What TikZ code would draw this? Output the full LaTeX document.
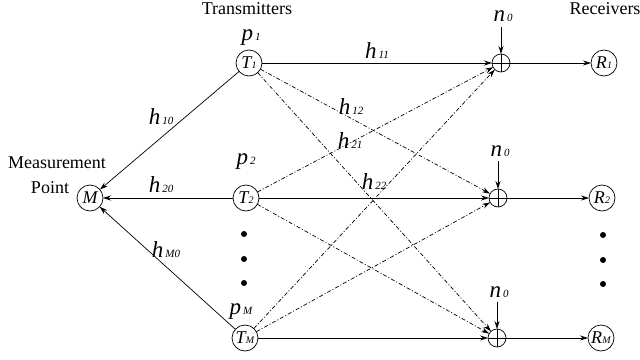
\documentclass[tikz,border=0pt]{standalone}
\usepackage{fontspec}
\setmainfont{Liberation Serif}
\usetikzlibrary{arrows.meta}
\newcommand{\lbl}[2]{{\itshape #1}\hspace{2pt}{\fontsize{11}{11}\selectfont\itshape #2}}
\newcommand{\nlab}[2]{#1\kern0.2pt{\fontsize{10}{10}\selectfont #2}}
\begin{document}
\begin{tikzpicture}[x=1pt,y=-1pt,
  every node/.style={inner sep=0pt, outer sep=0pt},
  tx/.style={circle,draw,line width=0.7pt,minimum size=26pt,font=\fontsize{18}{18}\selectfont\itshape},
  sm/.style={circle,draw,line width=0.7pt,minimum size=18pt,
    path picture={\draw[line width=0.7pt] (path picture bounding box.north) -- (path picture bounding box.south)
      (path picture bounding box.west) -- (path picture bounding box.east);}},
  arr/.style={-{Stealth[length=8pt,width=5pt]}, line width=0.7pt},
  dd/.style={arr, dash pattern=on 4pt off 2pt on 1pt off 2pt},
  hl/.style={font=\fontsize{23}{23}\selectfont},
  tl/.style={font=\fontsize{18}{18}\selectfont},
  dot/.style={circle,fill,minimum size=6pt}
]
\useasboundingbox (0,0) rectangle (640,359);

% nodes
\node[tx] (T1) at (249,63) {\nlab{T}{1}};
\node[tx] (T2) at (246,198) {\nlab{T}{2}};
\node[tx] (TM) at (245,338) {\nlab{T}{M}};
\node[tx] (M) at (90,198) {M};
\node[sm] (S1) at (501,63) {};
\node[sm] (S2) at (498,198) {};
\node[sm] (SM) at (497,338) {};
\node[tx] (R1) at (604,63) {\nlab{R}{1}};
\node[tx] (R2) at (602,198) {\nlab{R}{2}};
\node[tx] (RM) at (601,338) {\nlab{R}{M}};

% titles
\node[tl] (tt) at (247,9) {Transmitters};
\node[tl] (rt) at (605,9) {Receivers};
\node[tl] (mp1) at (57,163) {Measurement};
\node[tl] (mp2) at (50,188) {Point};

% powers
\node[hl] (p1) at (251,38) {\lbl{p}{1}};
\node[hl] (p2) at (246,162) {\lbl{p}{2}};
\node[hl] (pM) at (241,312) {\lbl{p}{M}};

% noise
\coordinate (c1) at (501,27);
\coordinate (c2) at (498,161);
\coordinate (c3) at (497,302);
\node[hl] (n1) at (503,16) {\lbl{n}{0}};
\node[hl] (n2) at (500,151) {\lbl{n}{0}};
\node[hl] (n3) at (499,292) {\lbl{n}{0}};
\draw[arr] (c1) -- (S1);
\draw[arr] (c2) -- (S2);
\draw[arr] (c3) -- (SM);

% links
\draw[arr] (T1) -- (S1);
\draw[dd] (T1) -- (S2);
\draw[dd] (T1) -- (SM);
\draw[dd] (T2) -- (S1);
\draw[arr] (T2) -- (S2);
\draw[dd] (T2) -- (SM);
\draw[dd] (TM) -- (S1);
\draw[dd] (TM) -- (S2);
\draw[arr] (TM) -- (SM);
\draw[arr] (S1) -- (R1);
\draw[arr] (S2) -- (R2);
\draw[arr] (SM) -- (RM);
\draw[arr] (T1) -- (M);
\draw[arr] (T2) -- (M);
\draw[arr] (TM) -- (M);

% channel labels
\node[hl] (h11) at (377,51) {\lbl{h}{11}};
\node[hl] (h12) at (351,107) {\lbl{h}{12}};
\node[hl] (h21) at (350,141) {\lbl{h}{21}};
\node[hl] (h22) at (374,182) {\lbl{h}{22}};
\node[hl] (h10) at (161,117) {\lbl{h}{10}};
\node[hl] (h20) at (161,185) {\lbl{h}{20}};
\node[hl] (hM0) at (166,250) {\lbl{h}{M0}};

% dots
\node[dot] (d1) at (244,234) {};
\node[dot] (d2) at (244,259) {};
\node[dot] (d3) at (244,283) {};
\node[dot] (e1) at (603,235) {};
\node[dot] (e2) at (603,260) {};
\node[dot] (e3) at (603,284) {};
\end{tikzpicture}
\end{document}
